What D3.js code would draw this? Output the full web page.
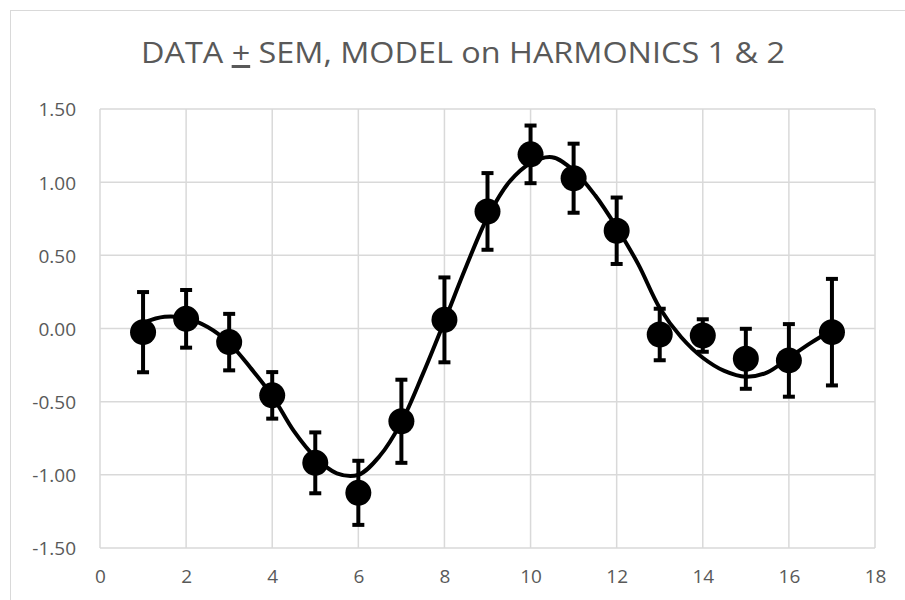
<!DOCTYPE html>
<html>
<head>
<meta charset="utf-8">
<script src="https://d3js.org/d3.v7.min.js"></script>
<style>
body{margin:0;background:#fff;}
svg{display:block;}
</style>
</head>
<body>
<svg id="chart" width="905" height="600"></svg>
<script>
var xPoints = [1,2,3,4,5,6,7,8,9,10,11,12,13,14,15,16,17];
var dataVals = [-0.025,0.066,-0.093,-0.457,-0.918,-1.123,-0.634,0.059,0.800,1.190,1.027,0.668,-0.041,-0.048,-0.207,-0.218,-0.025];
var semVals = [0.274,0.197,0.193,0.159,0.208,0.219,0.284,0.290,0.262,0.197,0.236,0.227,0.176,0.111,0.205,0.248,0.364];
var modelX = [1,1.5,2,2.5,3,3.5,4,4.5,5,5.5,6,6.5,7,7.5,8,8.5,9,9.5,10,10.5,11,11.5,12,12.5,13,13.5,14,14.5,15,15.5,16,16.5,17];
var modelY = [0.04,0.08,0.07,0.01,-0.10,-0.27,-0.46,-0.70,-0.88,-0.99,-1.00,-0.87,-0.64,-0.31,0.05,0.42,0.76,1.00,1.13,1.17,1.08,0.91,0.69,0.44,0.14,-0.06,-0.20,-0.29,-0.33,-0.30,-0.20,-0.10,-0.01];
var xTicks = [0,2,4,6,8,10,12,14,16,18];
var yTicks = [-1.5,-1,-0.5,0,0.5,1,1.5];
var titleText = ["DATA ","+"," SEM, MODEL on HARMONICS 1 & 2"];

var svg = d3.select("#chart");
var fontName = "'Open Sans', 'Liberation Sans', sans-serif";
var grey = "#595959";
var gridColor = "#d9d9d9";

var x = d3.scaleLinear().domain([0,18]).range([100,875]);
var y = d3.scaleLinear().domain([-1.5,1.5]).range([548,109]);

// outer chart border
svg.append("rect").attr("x",10.5).attr("y",10.5).attr("width",1000).attr("height",700)
	.attr("fill","none").attr("stroke",gridColor).attr("stroke-width",1);

// title
var title = svg.append("text").attr("x",463).attr("y",63).attr("text-anchor","middle")
	.attr("font-family",fontName).attr("font-size",30).attr("fill",grey)
	.attr("textLength",644).attr("lengthAdjust","spacingAndGlyphs");
title.append("tspan").text(titleText[0]);
title.append("tspan").attr("text-decoration","underline").text(titleText[1]);
title.append("tspan").text(titleText[2]);

// grid
var grid = svg.append("g");
grid.selectAll(".vg").data(xTicks).enter().append("line")
	.attr("x1",function(d){return x(d);}).attr("x2",function(d){return x(d);})
	.attr("y1",y(-1.5)).attr("y2",y(1.5))
	.attr("stroke",gridColor).attr("stroke-width",1.5);
grid.selectAll(".hg").data(yTicks).enter().append("line")
	.attr("x1",x(0)).attr("x2",x(18))
	.attr("y1",function(d){return y(d);}).attr("y2",function(d){return y(d);})
	.attr("stroke",gridColor).attr("stroke-width",1.5);

// axes labels, plain hyphen for negatives like the original
var yFmt = d3.format(".2f");
var xAxis = d3.axisBottom(x).tickValues(xTicks).tickSize(0).tickPadding(22).tickFormat(d3.format("d"));
var yAxis = d3.axisLeft(y).tickValues(yTicks).tickSize(0).tickPadding(24)
	.tickFormat(function(d){return yFmt(d).replace("\u2212","-");});
var gx = svg.append("g").attr("transform","translate(0,548)").call(xAxis);
var gy = svg.append("g").attr("transform","translate(100,0)").call(yAxis);
gx.select(".domain").remove();
gy.select(".domain").remove();
svg.selectAll(".tick text").attr("font-family",fontName).attr("font-size",19).attr("fill",grey);
gy.selectAll(".tick text").attr("dy","0.36em");

// model curve
var modelData = modelX.map(function(d,i){return [d,modelY[i]];});
var line = d3.line().x(function(d){return x(d[0]);}).y(function(d){return y(d[1]);}).curve(d3.curveCatmullRom.alpha(0.5));
svg.append("path").datum(modelData).attr("d",line)
	.attr("fill","none").attr("stroke","#000").attr("stroke-width",4);

// error bars
var pts = xPoints.map(function(d,i){return {x:d,v:dataVals[i],s:semVals[i]};});
var bars = svg.append("g").selectAll("g").data(pts).enter().append("g");
bars.append("line")
	.attr("x1",function(d){return x(d.x);}).attr("x2",function(d){return x(d.x);})
	.attr("y1",function(d){return y(d.v+d.s);}).attr("y2",function(d){return y(d.v-d.s);})
	.attr("stroke","#000").attr("stroke-width",4);
bars.append("line")
	.attr("x1",function(d){return x(d.x)-6;}).attr("x2",function(d){return x(d.x)+6;})
	.attr("y1",function(d){return y(d.v+d.s);}).attr("y2",function(d){return y(d.v+d.s);})
	.attr("stroke","#000").attr("stroke-width",4);
bars.append("line")
	.attr("x1",function(d){return x(d.x)-6;}).attr("x2",function(d){return x(d.x)+6;})
	.attr("y1",function(d){return y(d.v-d.s);}).attr("y2",function(d){return y(d.v-d.s);})
	.attr("stroke","#000").attr("stroke-width",4);

// points
svg.append("g").selectAll("circle").data(pts).enter().append("circle")
	.attr("cx",function(d){return x(d.x);}).attr("cy",function(d){return y(d.v);})
	.attr("r",13).attr("fill","#000");
</script>
</body>
</html>
